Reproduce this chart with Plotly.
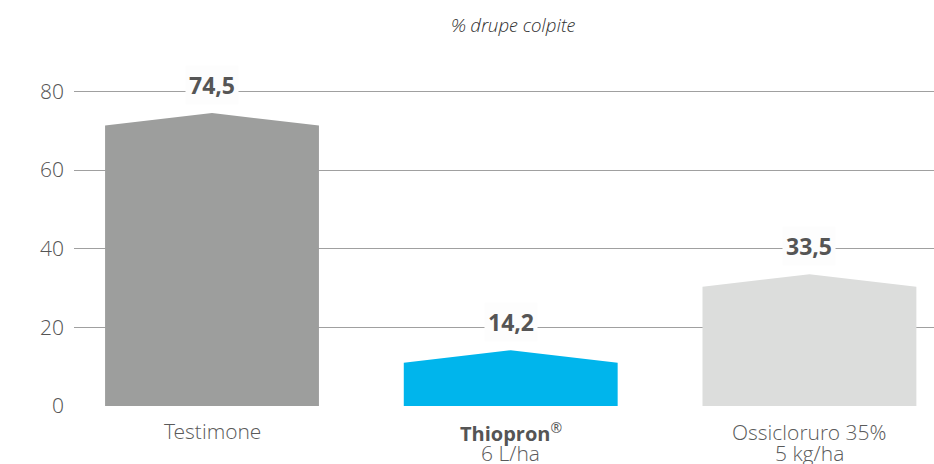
import plotly.graph_objects as go

cat_names = ["Testimone", "<b>Thiopron</b><sup>®</sup>", "Ossicloruro 35%"]
cat_doses = ["", "6 L/ha", "5 kg/ha"]
values = [74.5, 14.2, 33.5]
value_labels = ["74,5", "14,2", "33,5"]
colors = ["#9d9e9d", "#00b5ec", "#dcdddc"]
y_ticks = [0, 20, 40, 60, 80]
title_text = "% drupe colpite"

HALF_W = 0.358   # half bar width in category units
SHOULDER = 3.2   # drop of the bar shoulders below the peak
LIGHT = "Open Sans Light, Open Sans"

fig = go.Figure()
for i, (v, c) in enumerate(zip(values, colors)):
    xs = [i - HALF_W, i - HALF_W, i, i + HALF_W, i + HALF_W, i - HALF_W]
    ys = [0, v - SHOULDER, v, v - SHOULDER, 0, 0]
    fig.add_trace(go.Scatter(x=xs, y=ys, fill="toself", fillcolor=c, mode="lines",
                             line=dict(width=0, color=c), hoverinfo="skip", showlegend=False))

annotations = []
for i, (v, t) in enumerate(zip(values, value_labels)):
    annotations.append(dict(x=i, y=v, xref="x", yref="y", text="<b>" + t + "</b>",
                            showarrow=False, yanchor="middle", yshift=28,
                            font=dict(family="Open Sans", size=23, color="#555555"),
                            bgcolor="#fdfdfd", borderpad=3))
for i, t in enumerate(cat_names):
    bold = "<b>" in t
    annotations.append(dict(x=i, y=0, xref="x", yref="y", text=t, showarrow=False,
                            yanchor="middle", yshift=-25 if i == 0 else -26,
                            font=dict(family="Open Sans" if bold else LIGHT,
                                      size=20 if bold else 21, color="#555555" if bold else "#5a5a5a")))
for i, t in enumerate(cat_doses):
    if t:
        annotations.append(dict(x=i, y=0, xref="x", yref="y", text=t, showarrow=False,
                                yanchor="middle", yshift=-47,
                                font=dict(family=LIGHT, size=21, color="#5a5a5a")))
annotations.append(dict(x=(513.5 - 74) / 860.0, y=1 + (52 - 25) / 354.0, xref="paper", yref="paper",
                        text="<i>" + title_text + "</i>",
                        showarrow=False, xanchor="center", yanchor="middle",
                        font=dict(family=LIGHT, size=19, color="#333333")))

fig.update_layout(
    width=934, height=464,
    margin=dict(l=74, r=0, t=52, b=58),
    plot_bgcolor="#ffffff", paper_bgcolor="#ffffff",
    xaxis=dict(range=[-0.462, 2.417], showgrid=False, zeroline=False, showticklabels=False,
               showline=False, fixedrange=True),
    yaxis=dict(range=[0, 90], tickvals=y_ticks, showgrid=True, gridcolor="#a0a0a0", gridwidth=1,
               zeroline=False, showline=False, ticks="", ticklabelstandoff=9, fixedrange=True,
               tickfont=dict(family=LIGHT, size=21, color="#555555")),
    annotations=annotations,
    showlegend=False,
)

fig.write_html("out.html", config={"displayModeBar": False},
               post_script="document.body.style.margin='0';")
